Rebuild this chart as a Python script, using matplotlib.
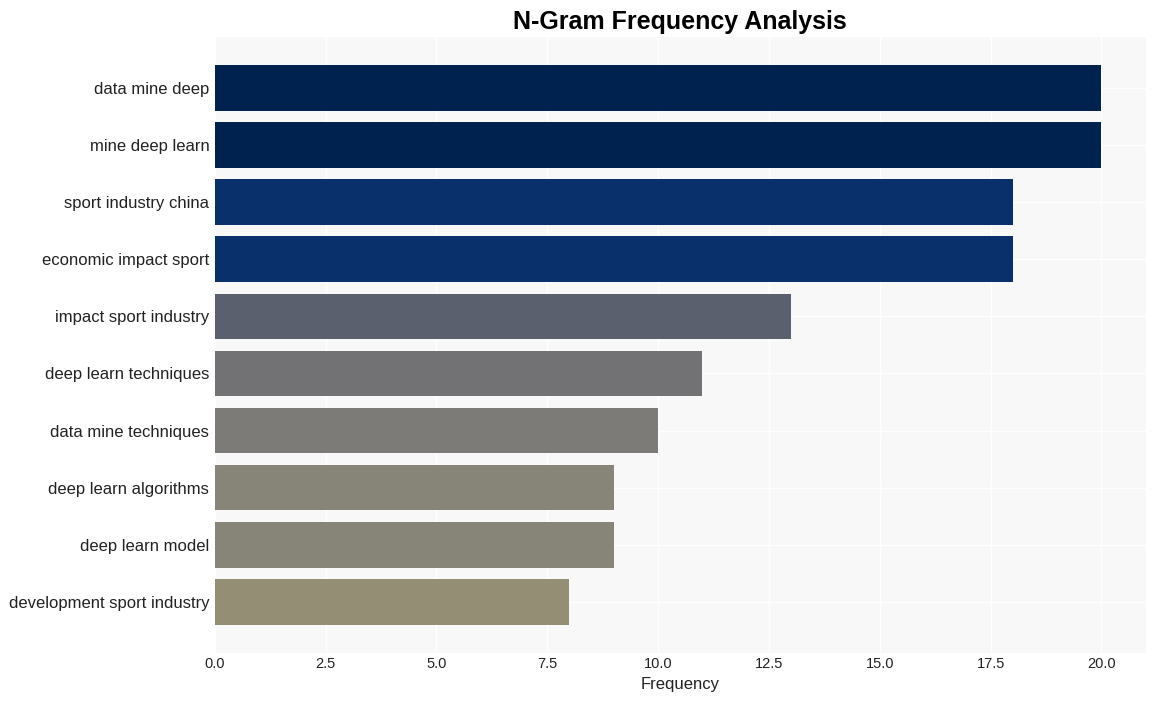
import numpy as np
import matplotlib.pyplot as plt

plt.rcParams['font.family'] = ['Liberation Sans', 'DejaVu Sans']

ngrams = [
    "data mine deep",
    "mine deep learn",
    "sport industry china",
    "economic impact sport",
    "impact sport industry",
    "deep learn techniques",
    "data mine techniques",
    "deep learn algorithms",
    "deep learn model",
    "development sport industry",
]
counts = [20, 20, 18, 18, 13, 11, 10, 9, 9, 8]

bar_colors = ["#00224e", "#00224e", "#0a306c", "#0a306c", "#5a606e",
              "#727274", "#7c7b77", "#878478", "#878478", "#948e74"]

fig, ax = plt.subplots(figsize=(11.55, 7.01), dpi=100)
ax.set_facecolor("#f8f8f8")

y = np.arange(len(ngrams))
ax.barh(y, counts, height=0.8, color=bar_colors, zorder=2)
ax.set_yticks(y)
ax.set_yticklabels(ngrams, fontsize=12, color="#222222")
ax.invert_yaxis()
ax.set_xlim(0, 21)
ax.set_xticks(np.arange(0, 20.1, 2.5))
ax.tick_params(axis='x', labelsize=10.5, length=0, pad=3.5, labelcolor="#222222")
ax.tick_params(axis='y', length=0, pad=4)

ax.grid(True, color="white", linewidth=1, zorder=0)
for s in ax.spines.values():
    s.set_visible(False)

ax.set_xlabel("Frequency", fontsize=12, color="#222222", labelpad=4)
ax.set_title("N-Gram Frequency Analysis", fontsize=18, fontweight="bold")

plt.subplots_adjust(left=0.186, right=0.992, top=0.947, bottom=0.069)
plt.savefig("out.png")
